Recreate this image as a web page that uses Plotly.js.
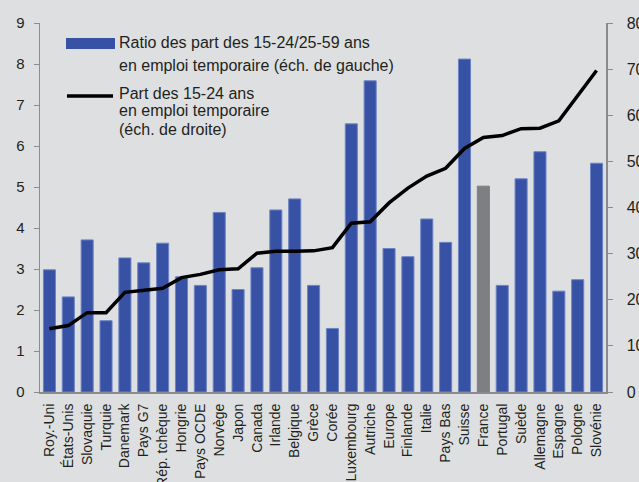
<!DOCTYPE html>
<html>
<head>
<meta charset="utf-8">
<script src="https://cdn.plot.ly/plotly-3.0.1.min.js"></script>
<style>
  body { margin: 0; background: #dedfe1; }
  #chart { width: 639px; height: 482px; }
</style>
</head>
<body>
<div id="chart"></div>
<script>
// Countries, sorted by the share of 15-24 year olds in temporary jobs
const countries = ['Roy.-Uni', 'États-Unis', 'Slovaquie', 'Turquie', 'Danemark', 'Pays G7',
    'Rép. tchèque', 'Hongrie', 'Pays OCDE', 'Norvège', 'Japon', 'Canada', 'Irlande',
    'Belgique', 'Grèce', 'Corée', 'Luxembourg', 'Autriche', 'Europe', 'Finlande',
    'Italie', 'Pays Bas', 'Suisse', 'France', 'Portugal', 'Suède', 'Allemagne',
    'Espagne', 'Pologne', 'Slovénie'];

// Ratio 15-24 / 25-59 (left scale)
const ratioValues = [2.98, 2.32, 3.71, 1.74, 3.27, 3.15, 3.63, 2.81, 2.60, 4.38, 2.50, 3.03,
    4.44, 4.71, 2.60, 1.55, 6.54, 7.59, 3.50, 3.30, 4.22, 3.65, 8.12, 5.02, 2.60, 5.20,
    5.86, 2.46, 2.74, 5.58];

// Share of 15-24 in temporary jobs, % (right scale)
const shareValues = [13.7, 14.4, 17.2, 17.2, 21.6, 22.1, 22.5, 24.8, 25.5, 26.5, 26.7, 30.1,
    30.5, 30.5, 30.6, 31.3, 36.6, 36.9, 41.0, 44.2, 46.8, 48.5, 52.8, 55.2, 55.6, 57.1,
    57.2, 58.8, 64.4, 69.7];

const blue = '#3752a4';
const grey = '#7e7f83';
const font = 'Liberation Sans, Arial, sans-serif';

// France is highlighted in grey
const barColors = countries.map(c => c === 'France' ? grey : blue);
const barLines = countries.map(c => c === 'France' ? grey : '#6c84c6');

const ratioTrace = {
    x: countries,
    y: ratioValues,
    type: 'bar',
    marker: { color: barColors, line: { color: barLines, width: 1 } },
    yaxis: 'y',
    hoverinfo: 'skip'
};

const shareTrace = {
    x: countries,
    y: shareValues,
    type: 'scatter',
    mode: 'lines',
    line: { color: '#000000', width: 3.5 },
    yaxis: 'y2',
    hoverinfo: 'skip'
};

// Legend drawn by hand to get the wide swatches of the original
const legendText = [
    { text: 'Ratio des part des 15-24/25-59 ans', y: 43 },
    { text: 'en emploi temporaire (éch. de gauche)', y: 66 },
    { text: 'Part des 15-24 ans', y: 93 },
    { text: 'en emploi temporaire', y: 111 },
    { text: '(éch. de droite)', y: 129 }
];

const annotations = legendText.map(l => ({
    xref: 'paper', yref: 'paper',
    x: (117 - 40) / 566, y: 1 - (l.y - 23) / 369,
    xanchor: 'left', yanchor: 'middle',
    text: l.text, showarrow: false,
    font: { family: font, size: 16, color: '#231f20' }
}));

const shapes = [
    {
        type: 'rect', xref: 'paper', yref: 'paper',
        x0: (66 - 40) / 566, x1: (115 - 40) / 566,
        y0: 1 - (49 - 23) / 369, y1: 1 - (38 - 23) / 369,
        fillcolor: blue, line: { width: 0 }
    },
    {
        type: 'line', xref: 'paper', yref: 'paper',
        x0: (67 - 40) / 566, x1: (113 - 40) / 566,
        y0: 1 - (96 - 23) / 369, y1: 1 - (96 - 23) / 369,
        line: { color: '#000000', width: 3.5 }
    }
];

const layout = {
    width: 639,
    height: 482,
    margin: { l: 40, r: 33, t: 23, b: 90 },
    paper_bgcolor: '#dedfe1',
    plot_bgcolor: '#dedfe1',
    showlegend: false,
    bargap: 0.36,
    font: { family: font, color: '#231f20' },
    xaxis: {
        type: 'category',
        range: [-0.5, countries.length - 0.5],
        tickangle: -90,
        tickfont: { size: 14 },
        ticks: '',
        showline: true,
        linecolor: '#8a8b8e',
        linewidth: 2,
        showgrid: false,
        zeroline: false,
        ticklabelstandoff: 4
    },
    yaxis: {
        range: [0, 9],
        dtick: 1,
        showgrid: false,
        zeroline: false,
        showline: true,
        linecolor: '#8a8b8e',
        linewidth: 1.5,
        ticks: 'outside',
        ticklen: 5,
        tickcolor: '#8a8b8e',
        tickfont: { size: 15 },
        ticklabelstandoff: 6
    },
    yaxis2: {
        range: [0, 80],
        dtick: 10,
        overlaying: 'y',
        side: 'right',
        showgrid: false,
        zeroline: false,
        showline: true,
        linecolor: '#8a8b8e',
        linewidth: 1.5,
        ticks: 'outside',
        ticklen: 5,
        tickcolor: '#8a8b8e',
        tickfont: { size: 16 },
        ticklabelstandoff: 11
    },
    annotations: annotations,
    shapes: shapes
};

Plotly.newPlot('chart', [ratioTrace, shareTrace], layout, { staticPlot: true });
</script>
</body>
</html>
